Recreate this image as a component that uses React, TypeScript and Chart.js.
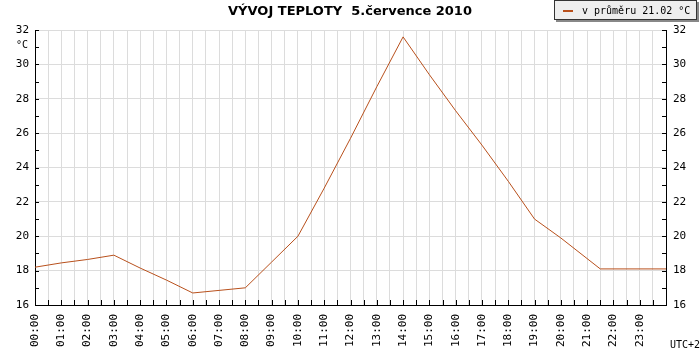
import React, { useEffect, useRef } from "react";
import { Chart, registerables } from "chart.js";

Chart.register(...registerables);

const TITLE = "VÝVOJ TEPLOTY  5.července 2010";
const LEGEND_LABEL = "v průměru 21.02 °C";
const UNIT_LABEL = "°C";
const TZ_LABEL = "UTC+2";

// hours of the day (x) and temperatures (°C)
const hours = [0, 1, 2, 3, 4, 5, 6, 7, 8, 9, 10, 11, 12, 13, 14, 15, 16, 17, 18, 19, 20, 21.5, 24];
const temps = [18.2, 18.45, 18.65, 18.9, 18.15, 17.45, 16.7, 16.85, 17.0, 18.5, 20.0, 22.8, 25.7, 28.7, 31.6, 29.4, 27.3, 25.3, 23.2, 21.0, 19.9, 18.1, 18.1];

const Y_MIN = 16;
const Y_MAX = 32;
const X_MIN = 0;
const X_MAX = 24;

const LINE_COLOR = "#b8501c";
const GRID_COLOR = "#dcdcdc";
const MONO = "'DejaVu Sans Mono', monospace";

const decorPlugin = {
  id: "decor",
  afterDraw(chart: any) {
    const ctx = chart.ctx as CanvasRenderingContext2D;
    const area = chart.chartArea;
    const xs = chart.scales.x;
    const ys = chart.scales.y;
    ctx.save();
    // inside ticks
    ctx.strokeStyle = "#000";
    ctx.lineWidth = 1;
    ctx.beginPath();
    for (let v = Y_MIN; v <= Y_MAX; v += 1) {
      const y = Math.round(ys.getPixelForValue(v)) + 0.5;
      ctx.moveTo(Math.round(area.left), y);
      ctx.lineTo(Math.round(area.left) + 4, y);
      ctx.moveTo(Math.round(area.right), y);
      ctx.lineTo(Math.round(area.right) - 4, y);
    }
    for (let v = X_MIN; v <= X_MAX; v += 0.5) {
      const x = Math.round(xs.getPixelForValue(v)) + 0.5;
      ctx.moveTo(x, Math.round(area.bottom));
      ctx.lineTo(x, Math.round(area.bottom) - 5);
    }
    ctx.stroke();

    // title
    ctx.fillStyle = "#000";
    ctx.font = "bold 13px 'DejaVu Sans', sans-serif";
    ctx.textAlign = "center";
    ctx.textBaseline = "middle";
    ctx.fillText(TITLE, 350, 12);

    // unit label
    ctx.font = "10px " + MONO;
    ctx.textAlign = "right";
    ctx.fillText(UNIT_LABEL, 28, 45);

    // timezone label
    ctx.textAlign = "left";
    ctx.fillText(TZ_LABEL, 670, 345);

    // legend box
    const bx = 554, by = 0, bw = 143, bh = 20;
    ctx.fillStyle = "#888";
    ctx.fillRect(bx + 2, by + 2, bw, bh);
    ctx.fillStyle = "#eeeeee";
    ctx.fillRect(bx, by, bw, bh);
    ctx.strokeStyle = "#333";
    ctx.strokeRect(bx + 0.5, by + 0.5, bw - 1, bh - 1);
    ctx.strokeStyle = LINE_COLOR;
    ctx.lineWidth = 2;
    ctx.beginPath();
    ctx.moveTo(563, 11);
    ctx.lineTo(573, 11);
    ctx.stroke();
    ctx.fillStyle = "#000";
    ctx.font = "10px " + MONO;
    ctx.textAlign = "left";
    ctx.textBaseline = "middle";
    ctx.fillText(LEGEND_LABEL, 582, 11);
    ctx.restore();
  },
};

export default function App() {
  const ref = useRef<HTMLCanvasElement | null>(null);
  useEffect(() => {
    if (!ref.current) return;
    const chart = new Chart(ref.current, {
      type: "line",
      data: {
        datasets: [
          {
            label: LEGEND_LABEL,
            data: hours.map((h, i) => ({ x: h, y: temps[i] })),
            borderColor: LINE_COLOR,
            borderWidth: 1,
            pointRadius: 0,
            tension: 0,
            fill: false,
          },
        ],
      },
      options: {
        animation: false,
        responsive: false,
        layout: { padding: { top: 30, left: 0, right: 0, bottom: 0 } },
        plugins: {
          legend: { display: false },
          title: { display: false },
          tooltip: { enabled: false },
        },
        scales: {
          x: {
            type: "linear",
            min: X_MIN,
            max: X_MAX,
            afterFit: (s: any) => {
              s.height = 45;
            },
            afterBuildTicks: (s: any) => {
              const t = [];
              for (let v = X_MIN; v <= X_MAX; v += 0.5) t.push({ value: v });
              s.ticks = t;
            },
            ticks: {
              autoSkip: false,
              minRotation: 90,
              maxRotation: 90,
              padding: 9,
              color: "#000",
              font: { family: MONO, size: 11 },
              callback: (v: any) => {
                const n = Number(v);
                if (Number.isInteger(n) && n < 24) return (n < 10 ? "0" : "") + n + ":00";
                return "";
              },
            },
            grid: { color: GRID_COLOR, drawTicks: false, lineWidth: 1 },
            border: { color: "#000", width: 1 },
          },
          y: {
            position: "left",
            min: Y_MIN,
            max: Y_MAX,
            afterFit: (s: any) => {
              s.width = 35;
            },
            ticks: {
              stepSize: 1,
              padding: 6,
              color: "#000",
              font: { family: MONO, size: 11 },
              callback: (v: any) => (Number(v) % 2 === 0 ? String(v) : ""),
            },
            grid: {
              drawTicks: false,
              color: (c: any) => (c.tick && c.tick.value % 2 === 0 ? GRID_COLOR : "rgba(0,0,0,0)"),
            },
            border: { color: "#000", width: 1 },
          },
          y2: {
            position: "right",
            min: Y_MIN,
            max: Y_MAX,
            afterFit: (s: any) => {
              s.width = 34;
            },
            ticks: {
              stepSize: 1,
              padding: 7,
              color: "#000",
              font: { family: MONO, size: 11 },
              callback: (v: any) => (Number(v) % 2 === 0 ? String(v) : ""),
            },
            grid: { display: false, drawTicks: false },
            border: { color: "#000", width: 1 },
          },
        },
      },
      plugins: [decorPlugin],
    });
    return () => chart.destroy();
  }, []);
  return (
    <div style={{ position: "absolute", left: 0, top: 0, width: 700, height: 350, background: "#fff" }}>
      <canvas ref={ref} width={700} height={350} />
    </div>
  );
}
